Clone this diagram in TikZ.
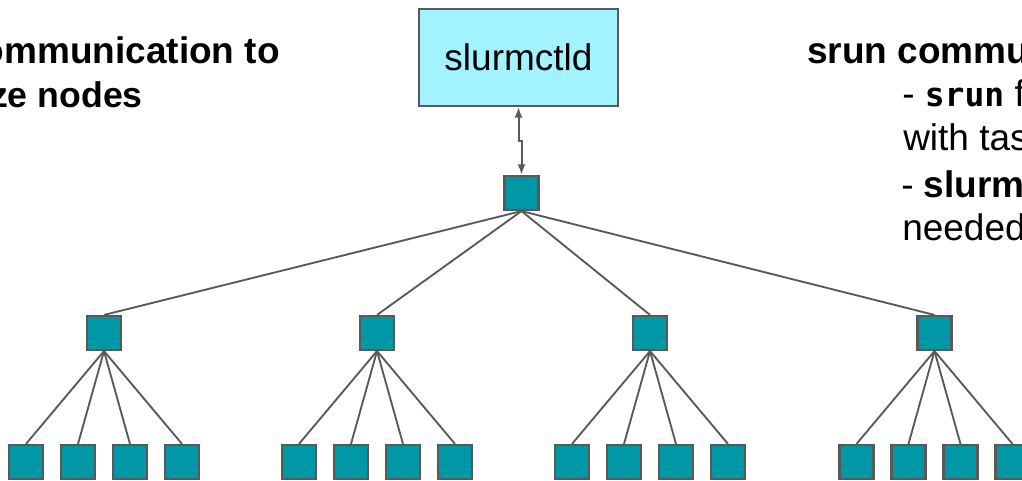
\documentclass[tikz,border=0pt]{standalone}
\usepackage{fontspec}
\setmainfont{Liberation Sans}
\newfontfamily\codefont{DejaVu Sans Mono}
\usetikzlibrary{arrows.meta,calc}

\definecolor{nodeteal}{HTML}{0097A7}
\definecolor{ctlfill}{HTML}{A2F3FF}
\definecolor{edgegray}{HTML}{595959}

\tikzset{
  unit/.style={draw=edgegray, line width=1.6pt, fill=nodeteal,
    minimum width=25.5pt, minimum height=25.5pt, inner sep=0pt},
  ctlbox/.style={draw=edgegray, line width=1.6pt, fill=ctlfill,
    minimum width=149pt, minimum height=72.5pt, inner sep=0pt,
    font=\fontsize{27.75}{33}\selectfont},
  link/.style={draw=edgegray, line width=1.4pt},
  txt/.style={anchor=base west, inner sep=0pt,
    font=\fontsize{27.75}{33}\selectfont},
  ltip/.tip={Latex[length=8pt,width=6pt]}
}

\begin{document}
\begin{tikzpicture}[x=0.75pt,y=-0.75pt]
  \useasboundingbox (0,0) rectangle (1022,480);
  \clip (0,0) rectangle (1022,480);

  % controller and the root of the fan-out tree
  \node[ctlbox] (ctl) at (518.5,57.5) {slurmctld};
  \node[unit] (root) at (521.5,193) {};
  \coordinate (mid) at ($(ctl.south)!0.5!(root.north)$);
  \draw[link, line width=1.5pt, ltip-ltip]
    (ctl.south) -- (ctl.south |- mid) -- (root.north |- mid) -- (root.north);

  % two further levels: four relays, each with four compute nodes
  \foreach \g/\cx in {1/104, 2/377, 3/650, 4/934.5} {
    \node[unit] (m\g) at (\cx,333) {};
    \draw[link] (root.south) -- (m\g.north);
    \foreach \k/\dx in {1/-78, 2/-26, 3/26, 4/78} {
      \node[unit] (l\g\k) at ({\cx+\dx},462) {};
      \draw[link] (m\g.south) -- (l\g\k.north);
    }
  }

  % left caption
  \node[txt, anchor=base east] (lt1) at (280,63) {\bfseries ommunication to};
  \node[txt, anchor=base east] (lt2) at (143,107)
    {\bfseries\fontsize{26.75}{33}\selectfont ze nodes};

  % right caption
  \node[txt] (rt1) at (807,63) {\bfseries srun communication};
  \node[txt] (rt2) at (902,106) {- {\codefont\bfseries\fontsize{24.75}{33}\selectfont srun} fans};
  \node[txt] (rt3) at (903,150) {with tasks};
  \node[txt] (rt4) at (901,197) {- \bfseries slurmd};
  \node[txt] (rt5) at (902,240) {needed};
\end{tikzpicture}
\end{document}
